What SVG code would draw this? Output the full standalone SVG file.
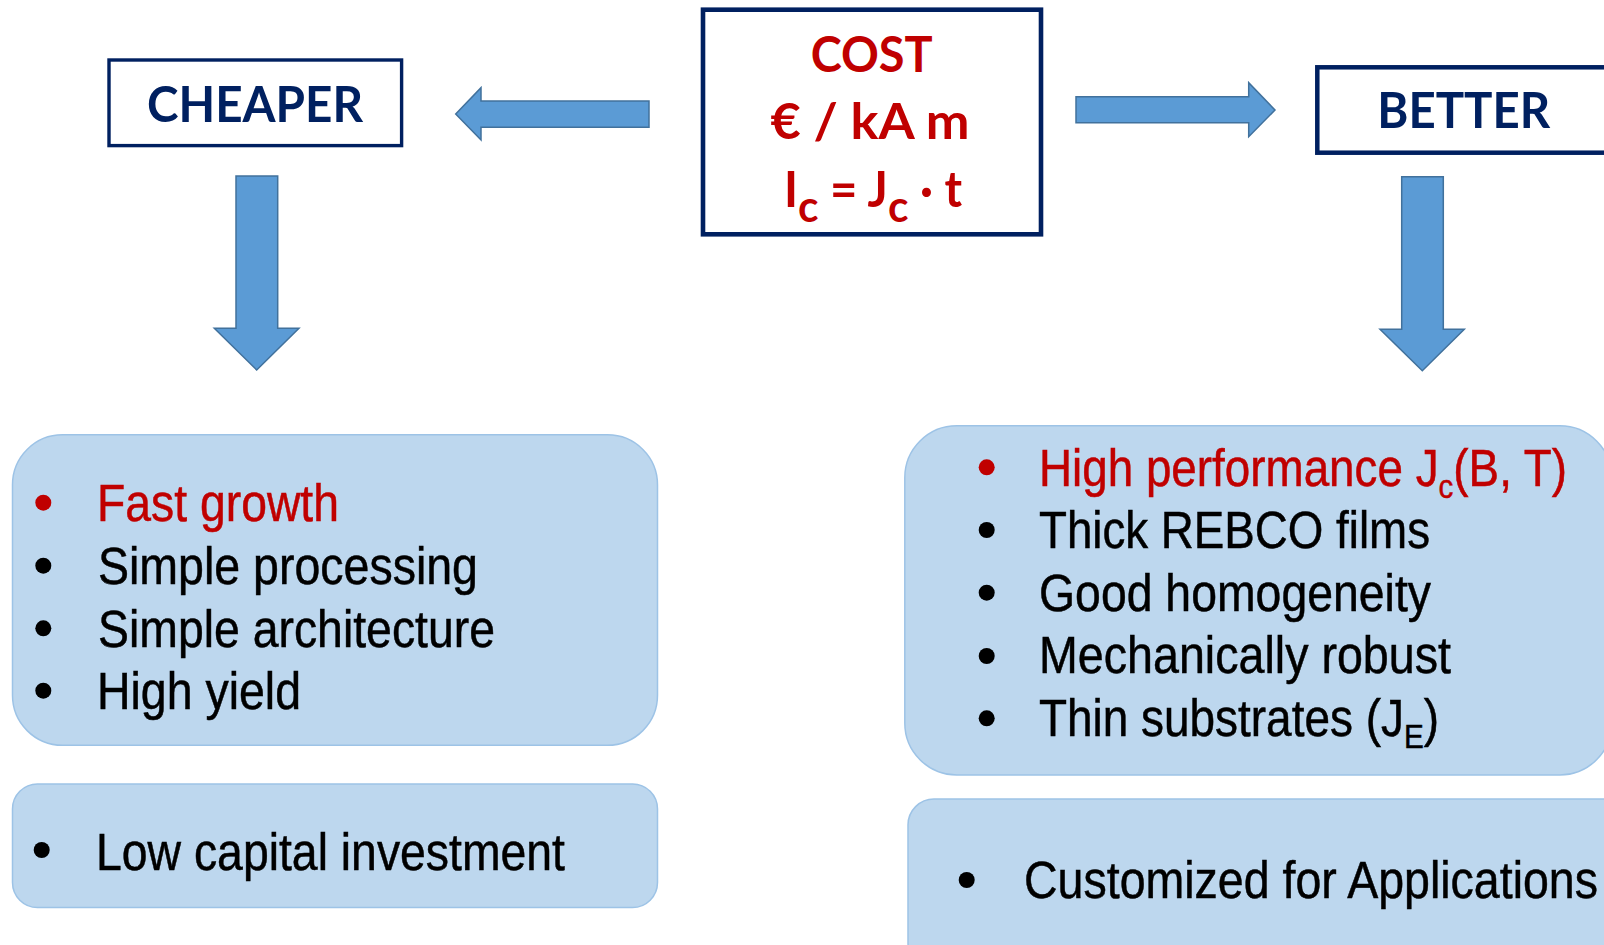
<svg xmlns="http://www.w3.org/2000/svg" width="1604" height="945" viewBox="0 0 1604 945">
<style>
.hbox{fill:#ffffff;stroke:#002060;}
.head{font-family:Lato,"Open Sans",sans-serif;font-weight:700;fill:#002060;font-size:50px;}
.cost{font-family:Lato,"Open Sans",sans-serif;font-weight:700;fill:#C00000;font-size:49px;}
.arrow{fill:#5B9BD5;stroke:#41719C;stroke-width:1.5;stroke-linejoin:miter;}
.panel{fill:#BDD7EE;stroke:#9DC3E6;stroke-width:1.5;}
.body{font-family:"Liberation Sans Narrow","Liberation Sans",Arial,sans-serif;font-size:51px;fill:#000000;stroke:#000000;stroke-width:0.5;}
.red{fill:#C00000;stroke:#C00000;}
.dot{fill:#000000;}
.dotred{fill:#C00000;}
</style>
<rect width="1604" height="945" fill="#ffffff"/>

<g id="connectors">
  <polygon class="arrow" points="455.7,114 481,87.7 481,101 649,101 649,127.3 481,127.3 481,140"/>
  <polygon class="arrow" points="1076,96.7 1248.7,96.7 1248.7,82.7 1275,110 1248.7,136.7 1248.7,122.7 1076,122.7"/>
  <polygon class="arrow" points="236,176 277.7,176 277.7,328.3 299,328.3 256.7,370 214.3,328.3 236,328.3"/>
  <polygon class="arrow" points="1401.7,176.7 1443.3,176.7 1443.3,329.3 1464.3,329.3 1422.3,370.7 1380,329.3 1401.7,329.3"/>
</g>

<g id="cost">
  <rect class="hbox" x="703" y="9.7" width="338" height="224.6" stroke-width="4.6"/>
  <text class="cost" x="871.7" y="71.7" text-anchor="middle" textLength="122" lengthAdjust="spacingAndGlyphs">COST</text>
  <text class="cost" x="870" y="139.3" text-anchor="middle" textLength="199" lengthAdjust="spacingAndGlyphs">€ / kA m</text>
  <text class="cost" x="784" y="206.7" textLength="178" lengthAdjust="spacingAndGlyphs">I<tspan dy="15" font-size="44">c</tspan><tspan dy="-15"> = J</tspan><tspan dy="15" font-size="44">c</tspan><tspan dy="-15"> · t</tspan></text>
</g>

<g id="cheaper">
  <rect class="hbox" x="109" y="60" width="292.6" height="85.6" stroke-width="3.4"/>
  <text class="head" x="255" y="121.7" text-anchor="middle" textLength="216" lengthAdjust="spacingAndGlyphs">CHEAPER</text>
</g>

<g id="better">
  <rect class="hbox" x="1317.3" y="67.3" width="310" height="85.4" stroke-width="4.5"/>
  <text class="head" x="1463.7" y="128.3" text-anchor="middle" textLength="173" lengthAdjust="spacingAndGlyphs">BETTER</text>
</g>

<g id="cheaper-list">
  <rect class="panel" x="12.5" y="434.8" width="645" height="310.5" rx="50" ry="50"/>
  <circle class="dotred" cx="43.3" cy="502.7" r="8"/>
  <circle class="dot" cx="43.3" cy="565.7" r="8"/>
  <circle class="dot" cx="43.3" cy="628.3" r="8"/>
  <circle class="dot" cx="43.3" cy="690.7" r="8"/>
  <text class="body red" x="97" y="521" textLength="242" lengthAdjust="spacingAndGlyphs">Fast growth</text>
  <text class="body" x="98" y="584" textLength="380" lengthAdjust="spacingAndGlyphs">Simple processing</text>
  <text class="body" x="98" y="646.7" textLength="397" lengthAdjust="spacingAndGlyphs">Simple architecture</text>
  <text class="body" x="97" y="709.3" textLength="204" lengthAdjust="spacingAndGlyphs">High yield</text>
</g>

<g id="cheaper-invest">
  <rect class="panel" x="12.5" y="784" width="645" height="123.5" rx="25" ry="25"/>
  <circle class="dot" cx="41.7" cy="850" r="8"/>
  <text class="body" x="96" y="870" textLength="469" lengthAdjust="spacingAndGlyphs">Low capital investment</text>
</g>

<g id="better-list">
  <rect class="panel" x="904.8" y="425.8" width="707" height="349.2" rx="52" ry="52"/>
  <circle class="dotred" cx="986.7" cy="467.3" r="8"/>
  <circle class="dot" cx="986.7" cy="530" r="8"/>
  <circle class="dot" cx="986.7" cy="592.7" r="8"/>
  <circle class="dot" cx="986.7" cy="656" r="8"/>
  <circle class="dot" cx="986.7" cy="718.3" r="8"/>
  <text class="body red" x="1039" y="486" textLength="528" lengthAdjust="spacingAndGlyphs">High performance J<tspan dy="12" font-size="33">c</tspan><tspan dy="-12">(B, T)</tspan></text>
  <text class="body" x="1039" y="548.3" textLength="391" lengthAdjust="spacingAndGlyphs">Thick REBCO films</text>
  <text class="body" x="1039" y="611" textLength="392" lengthAdjust="spacingAndGlyphs">Good homogeneity</text>
  <text class="body" x="1039" y="673.3" textLength="412" lengthAdjust="spacingAndGlyphs">Mechanically robust</text>
  <text class="body" x="1039" y="736" textLength="400" lengthAdjust="spacingAndGlyphs">Thin substrates (J<tspan dy="12" font-size="33">E</tspan><tspan dy="-12">)</tspan></text>
</g>

<g id="better-apps">
  <rect class="panel" x="908" y="799" width="720" height="170" rx="26" ry="26"/>
  <circle class="dot" cx="966.7" cy="880" r="8"/>
  <text class="body" x="1024" y="898.3" textLength="574" lengthAdjust="spacingAndGlyphs">Customized for Applications</text>
</g>
</svg>
